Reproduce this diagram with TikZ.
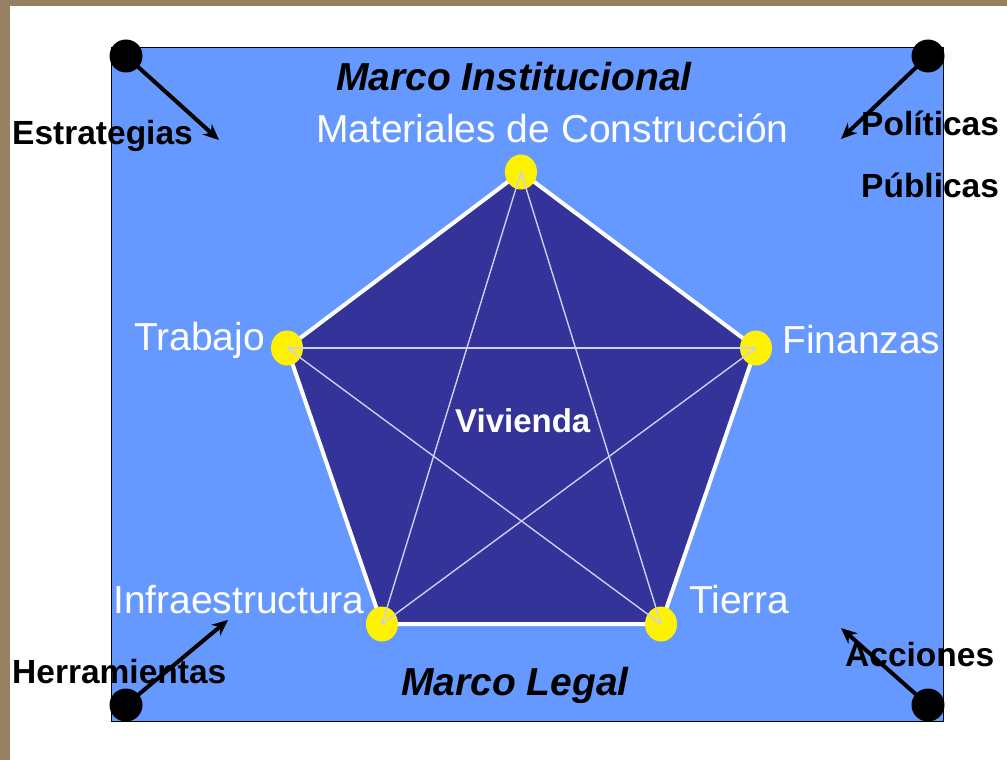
\documentclass[tikz,border=0pt]{standalone}
\usepackage{fontspec}
\setmainfont{Liberation Sans}
\usetikzlibrary{positioning,shapes.geometric,arrows.meta}
\definecolor{fondo}{RGB}{102,153,255}
\definecolor{penta}{RGB}{51,51,153}
\definecolor{lila}{RGB}{205,205,245}
\definecolor{marron}{RGB}{150,128,98}

\begin{document}
\begin{tikzpicture}[x=1pt,y=-1pt,
	every node/.style={inner sep=0pt},
	eje/.style={text=white,
				font=\fontsize{39}{44}\selectfont,
				anchor=base west
	},
	marco/.style={font=\fontsize{39}{44}\selectfont\bfseries\itshape,
				  anchor=base west
	},
	lado/.style={font=\fontsize{33.5}{40}\selectfont\bfseries,
				 anchor=base west
	},
	vertice/.style={ellipse, fill=yellow, minimum width=32pt, minimum height=35pt},
	punto/.style={circle, fill=black, minimum size=33pt},
	flecha/.style={-{Stealth[length=16pt,width=14pt]}, line width=4pt},
	diag/.style={lila, line width=1.4pt}
]
	\useasboundingbox (0,0) rectangle (1007,760);
	\fill[marron] (0,0) rectangle (1007,760);
	\fill[white] (10,6) rectangle (1007,760);
	\filldraw[fill=fondo, draw=black, line width=1pt] (111,48) rectangle (943,721);

	\coordinate (mat) at (521,172);
	\coordinate (tra) at (287,348);
	\coordinate (fin) at (756,348);
	\coordinate (inf) at (382,624);
	\coordinate (tie) at (661,624);
	\filldraw[fill=penta, draw=white, line width=4pt, line join=round]
		(mat) -- (fin) -- (tie) -- (inf) -- (tra) -- cycle;

	\foreach \v in {mat,tra,fin,inf,tie}
		\node (\v v) [vertice] at (\v) {};
	\draw[diag] (matv.center) -- (infv.center);
	\draw[diag] (matv.center) -- (tiev.center);
	\draw[diag] (trav.center) -- (finv.center);
	\draw[diag] (trav.center) -- (tiev.center);
	\draw[diag] (finv.center) -- (infv.center);

	\node (vivienda) [lado, text=white, font=\fontsize{33}{40}\selectfont\bfseries] at (455,432) {Vivienda};
	\node (materiales) [eje] at (316,142) {Materiales de Construcción};
	\node (trabajo) [eje] at (134,350) {Trabajo};
	\node (finanzas) [eje] at (782,353) {Finanzas};
	\node (infra) [eje] at (113,613) {Infraestructura};
	\node (tierra) [eje] at (689,613) {Tierra};
	\node (institucional) [marco] at (336,91) {Marco Institucional};
	\node (legal) [marco] at (401,695) {Marco Legal};

	\node (estrategias) [lado] at (12,144) {Estrategias};
	\node (politicas) [lado] at (861,135) {Políticas};
	\node (publicas) [lado] at (861,197) {Públicas};
	\node (herramientas) [lado] at (12,683) {Herramientas};
	\node (acciones) [lado] at (845,666) {Acciones};

	\node (p1) [punto] at (126,56) {};
	\node (p2) [punto] at (928,56) {};
	\node (p3) [punto] at (126,705) {};
	\node (p4) [punto] at (928,705) {};
	\coordinate (f1) at (219,140);
	\coordinate (f2) at (841,139);
	\coordinate (f3) at (228,620);
	\coordinate (f4) at (841,628);
	\draw[flecha] (p1.center) -- (f1);
	\draw[flecha] (p2.center) -- (f2);
	\draw[flecha] (p3.center) -- (f3);
	\draw[flecha] (p4.center) -- (f4);
\end{tikzpicture}
\end{document}
